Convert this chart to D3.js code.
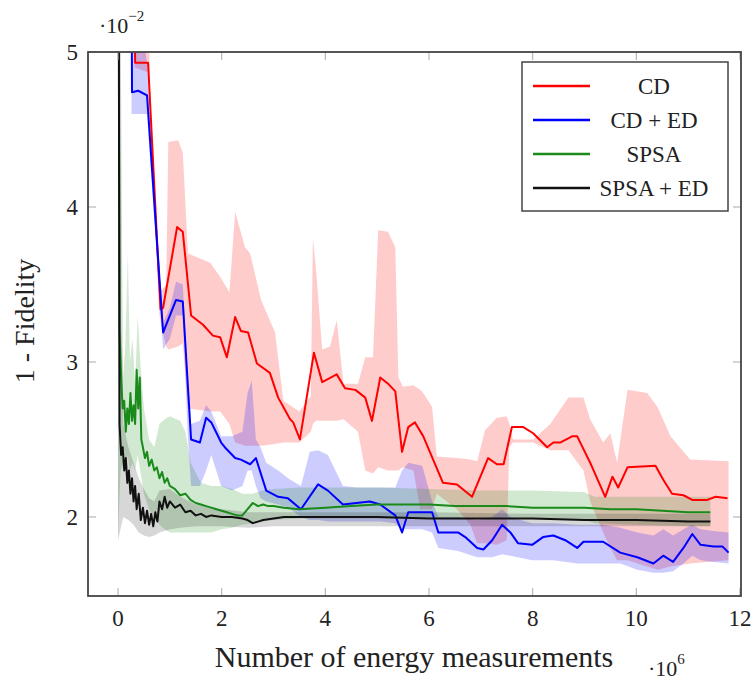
<!DOCTYPE html>
<html>
<head>
<meta charset="utf-8">
<script src="https://cdn.jsdelivr.net/npm/d3@7"></script>
<style>
  body { margin: 0; background: #fff; }
</style>
</head>
<body>
<div id="chart"></div>
<script>
// ---- data (x in 1e6 measurements, y in 1e-2) ----
const cdX = [0.32, 0.33, 0.58, 0.82, 0.87, 1.14, 1.25, 1.41, 1.64, 1.83, 1.97, 2.1, 2.26, 2.37, 2.51, 2.68, 2.93, 3.09, 3.19, 3.32, 3.38, 3.51, 3.78, 3.94, 4.22, 4.38, 4.58, 4.77, 4.9, 5.06, 5.21, 5.35, 5.48, 5.6, 5.73, 5.89, 6.27, 6.54, 6.83, 7.14, 7.31, 7.44, 7.6, 7.82, 8.01, 8.28, 8.4, 8.53, 8.76, 8.86, 9.11, 9.4, 9.54, 9.65, 9.83, 10.37, 10.52, 10.69, 10.91, 11.08, 11.37, 11.53, 11.76];
const cdY = [5.6, 4.93, 4.93, 3.34, 3.35, 3.87, 3.84, 3.30, 3.24, 3.17, 3.16, 3.03, 3.29, 3.2, 3.19, 2.99, 2.93, 2.77, 2.71, 2.63, 2.61, 2.50, 3.06, 2.87, 2.92, 2.83, 2.82, 2.77, 2.62, 2.9, 2.86, 2.81, 2.42, 2.58, 2.61, 2.52, 2.22, 2.21, 2.13, 2.38, 2.34, 2.34, 2.58, 2.58, 2.54, 2.45, 2.48, 2.48, 2.52, 2.52, 2.35, 2.13, 2.26, 2.19, 2.32, 2.33, 2.24, 2.15, 2.14, 2.11, 2.11, 2.13, 2.12];

const cdBandX = [0.32, 0.58, 0.62, 0.8, 0.93, 0.97, 1.16, 1.25, 1.35, 1.78, 1.97, 2.15, 2.26, 2.45, 2.55, 2.76, 3.03, 3.19, 3.5, 3.72, 3.76, 3.82, 3.94, 4.09, 4.22, 4.35, 4.63, 4.77, 4.92, 5.02, 5.21, 5.35, 5.41, 5.5, 5.7, 5.83, 5.89, 6.06, 6.15, 6.54, 6.8, 6.93, 7.08, 7.31, 7.5, 7.55, 7.62, 8.01, 8.34, 8.69, 8.98, 9.11, 9.36, 9.5, 9.63, 9.83, 10.21, 10.41, 10.66, 11.04, 11.78];
const cdBandHi = [5.6, 5.6, 4.7, 3.45, 3.5, 4.42, 4.43, 4.35, 3.70, 3.64, 3.55, 3.45, 3.97, 3.74, 3.7, 3.40, 3.19, 2.75, 2.68, 2.78, 3.8, 3.6, 3.08, 3.1, 3.27, 2.86, 2.86, 3.03, 3.03, 3.85, 3.84, 3.74, 2.9, 2.84, 2.85, 2.82, 2.8, 2.71, 2.39, 2.38, 2.37, 2.36, 2.56, 2.64, 2.65, 2.6, 2.5, 2.5, 2.6, 2.77, 2.77, 2.63, 2.48, 2.54, 2.35, 2.82, 2.8, 2.71, 2.52, 2.37, 2.36];
const cdBandLo = [4.9, 4.87, 4.55, 3.3, 3.1, 3.08, 3.1, 3.12, 2.7, 2.68, 2.68, 2.6, 2.48, 2.46, 2.46, 2.46, 2.47, 2.48, 2.48, 2.55, 2.6, 2.62, 2.62, 2.62, 2.62, 2.63, 2.55, 2.3, 2.28, 2.32, 2.3, 2.3, 2.3, 2.32, 2.3, 2.05, 2.05, 2.05, 2.15, 2.05, 1.95, 1.83, 1.83, 1.82, 1.85, 2.45, 2.48, 2.48, 2.43, 2.43, 2.3, 2.1, 1.9, 1.8, 1.72, 1.72, 1.68, 1.66, 1.68, 1.7, 1.72];

const cdEdX = [0.26, 0.27, 0.39, 0.56, 0.87, 1.12, 1.25, 1.41, 1.58, 1.7, 1.8, 1.99, 2.06, 2.26, 2.37, 2.55, 2.66, 2.86, 3.09, 3.28, 3.53, 3.86, 4.05, 4.34, 4.86, 5.06, 5.35, 5.48, 5.6, 5.87, 6.06, 6.18, 6.56, 6.7, 6.93, 7.05, 7.22, 7.41, 7.57, 7.72, 7.99, 8.2, 8.4, 8.63, 8.86, 8.98, 9.36, 9.69, 10.02, 10.33, 10.52, 10.71, 10.91, 11.08, 11.24, 11.49, 11.66, 11.78];
const cdEdY = [5.6, 4.74, 4.75, 4.72, 3.19, 3.40, 3.39, 2.50, 2.48, 2.64, 2.61, 2.48, 2.45, 2.38, 2.37, 2.34, 2.38, 2.17, 2.13, 2.12, 2.05, 2.21, 2.17, 2.08, 2.1, 2.08, 2.01, 1.9, 2.03, 2.03, 2.03, 1.9, 1.9, 1.87, 1.8, 1.79, 1.85, 1.95, 1.9, 1.83, 1.82, 1.87, 1.88, 1.85, 1.8, 1.84, 1.84, 1.77, 1.74, 1.7, 1.75, 1.71, 1.8, 1.89, 1.82, 1.81, 1.81, 1.77];

const cdEdBandX = [0.26, 0.56, 0.62, 0.87, 1.0, 1.12, 1.25, 1.35, 1.41, 1.58, 1.7, 1.8, 1.99, 2.2, 2.4, 2.5, 2.58, 2.66, 2.75, 2.86, 3.09, 3.28, 3.53, 3.7, 3.86, 4.05, 4.34, 4.6, 4.86, 5.06, 5.35, 5.48, 5.6, 5.87, 6.06, 6.18, 6.56, 6.93, 7.22, 7.41, 7.57, 7.99, 8.4, 8.86, 9.36, 9.69, 10.02, 10.33, 10.52, 10.71, 10.91, 11.08, 11.24, 11.49, 11.78];
const cdEdBandHi = [5.6, 4.93, 4.5, 3.25, 3.35, 3.52, 3.5, 2.9, 2.6, 2.62, 2.72, 2.68, 2.52, 2.52, 2.55, 2.8, 2.88, 2.5, 2.45, 2.35, 2.3, 2.25, 2.2, 2.42, 2.43, 2.4, 2.2, 2.19, 2.19, 2.19, 2.19, 2.3, 2.35, 2.33, 2.1, 2.0, 2.0, 1.98, 2.0, 2.05, 2.0, 1.96, 1.96, 1.95, 1.95, 1.93, 1.9, 1.88, 1.92, 1.88, 1.92, 1.95, 1.92, 1.91, 1.9];
const cdEdBandLo = [4.6, 4.6, 4.3, 3.08, 3.15, 3.3, 3.3, 2.5, 2.2, 2.2, 2.3, 2.4, 2.2, 2.17, 2.2, 2.3, 2.3, 2.2, 2.12, 2.1, 2.08, 2.06, 2.0, 1.98, 1.98, 1.97, 1.97, 1.97, 1.97, 1.97, 1.96, 1.92, 1.92, 1.92, 1.9, 1.8, 1.78, 1.74, 1.74, 1.76, 1.75, 1.72, 1.72, 1.7, 1.7, 1.7, 1.66, 1.64, 1.64, 1.65, 1.7, 1.75, 1.72, 1.71, 1.7];

const spsaX = [0, 0.03, 0.06, 0.09, 0.12, 0.15, 0.18, 0.21, 0.24, 0.27, 0.3, 0.33, 0.36, 0.39, 0.42, 0.45, 0.48, 0.52, 0.56, 0.6, 0.65, 0.7, 0.75, 0.8, 0.85, 0.9, 0.95, 1.0, 1.1, 1.2, 1.3, 1.4, 1.5, 1.6, 1.7, 1.8, 1.9, 2.0, 2.1, 2.2, 2.3, 2.4, 2.5, 2.6, 2.7, 2.8, 2.9, 3.0, 3.2, 3.5, 4.0, 4.5, 5.0, 5.5, 6.0, 6.5, 7.0, 7.5, 8.0, 8.5, 9.0, 9.5, 10.0, 10.5, 11.0, 11.43];
const spsaY = [8, 3.2, 2.9, 2.7, 2.75, 2.55, 2.7, 2.6, 2.8, 2.62, 2.72, 2.6, 2.95, 2.7, 2.9, 2.5, 2.45, 2.38, 2.42, 2.33, 2.37, 2.3, 2.32, 2.25, 2.29, 2.22, 2.25, 2.2, 2.18, 2.14, 2.15, 2.11, 2.09, 2.08, 2.07, 2.06, 2.05, 2.04, 2.03, 2.02, 2.01, 2.01, 2.05, 2.09, 2.07, 2.08, 2.07, 2.07, 2.06, 2.05, 2.06, 2.07, 2.08, 2.08, 2.08, 2.07, 2.07, 2.07, 2.06, 2.06, 2.06, 2.05, 2.05, 2.04, 2.03, 2.03];

const spsaBandX = [0, 0.05, 0.1, 0.14, 0.19, 0.23, 0.28, 0.33, 0.38, 0.43, 0.5, 0.6, 0.7, 0.8, 0.9, 1.0, 1.2, 1.3, 1.4, 1.6, 1.8, 2.0, 2.2, 2.4, 2.6, 2.8, 3.0, 3.5, 4.0, 5.0, 6.0, 7.0, 8.0, 9.0, 9.2, 10.0, 11.0, 11.43];
const spsaBandHi = [8, 3.3, 2.9, 3.1, 3.7, 3.0, 3.15, 2.85, 3.3, 3.0, 2.7, 2.5, 2.45, 2.6, 2.63, 2.65, 2.62, 2.55, 2.35, 2.22, 2.2, 2.2, 2.18, 2.15, 2.15, 2.17, 2.18, 2.19, 2.19, 2.19, 2.18, 2.17, 2.17, 2.16, 2.13, 2.13, 2.13, 2.13];
const spsaBandLo = [1.9, 2.3, 2.35, 2.3, 2.4, 2.3, 2.35, 2.3, 2.4, 2.3, 2.15, 2.05, 2.0, 1.95, 1.92, 1.9, 1.9, 1.9, 1.9, 1.9, 1.9, 1.92, 1.93, 1.95, 1.96, 1.97, 1.98, 1.99, 1.99, 1.99, 1.99, 1.99, 1.99, 1.98, 1.96, 1.95, 1.94, 1.94];

const spsaEdX = [0, 0.03, 0.06, 0.09, 0.12, 0.15, 0.18, 0.21, 0.24, 0.27, 0.3, 0.33, 0.36, 0.4, 0.44, 0.48, 0.52, 0.56, 0.6, 0.64, 0.68, 0.72, 0.76, 0.8, 0.85, 0.9, 0.95, 1.0, 1.1, 1.2, 1.3, 1.4, 1.5, 1.6, 1.7, 1.8, 2.0, 2.2, 2.4, 2.5, 2.6, 2.7, 2.8, 3.0, 3.2, 3.5, 4.0, 5.0, 6.0, 7.0, 8.0, 9.0, 10.0, 11.0, 11.43];
const spsaEdY = [8, 2.6, 2.4, 2.45, 2.3, 2.38, 2.22, 2.3, 2.15, 2.25, 2.1, 2.2, 2.05, 2.15, 1.98, 2.06, 1.96, 2.04, 1.95, 2.02, 1.94, 2.03, 1.97, 2.1, 2.05, 2.13, 2.06, 2.1, 2.06, 2.08, 2.03, 2.04, 2.01, 2.02, 2.0, 2.01, 2.0, 2.0, 1.99, 1.98, 1.96, 1.97, 1.98, 1.99, 2.0, 2.0, 2.0, 2.0, 1.99, 1.99, 1.99, 1.98, 1.98, 1.97, 1.97];

const spsaEdBandX = [0, 0.1, 0.2, 0.3, 0.4, 0.5, 0.6, 0.7, 0.8, 1.0, 1.2, 1.5, 2.0, 2.5, 3.0, 4.0, 6.0, 8.0, 10.0, 11.43];
const spsaEdBandHi = [8, 2.6, 2.45, 2.35, 2.25, 2.18, 2.12, 2.1, 2.17, 2.18, 2.13, 2.08, 2.05, 2.03, 2.03, 2.03, 2.03, 2.02, 2.02, 2.02];
const spsaEdBandLo = [1.85, 2.0, 1.98, 1.95, 1.9, 1.88, 1.87, 1.88, 1.9, 1.92, 1.93, 1.94, 1.94, 1.93, 1.94, 1.94, 1.94, 1.94, 1.94, 1.94];

const xTicks = [0, 2, 4, 6, 8, 10, 12];
const yTicks = [2, 3, 4, 5];
const seriesNames = ["CD", "CD + ED", "SPSA", "SPSA + ED"];
const seriesColors = ["#ff0000", "#0000ff", "#1a8a1a", "#111111"];

// ---- layout ----
const W = 756, H = 680;
const plot = { left: 88, right: 741, top: 52, bottom: 596 };
const serif = "Liberation Serif, Times New Roman, Times, DejaVu Serif, serif";

const svg = d3.select("#chart")
    .append("svg")
    .attr("width", W)
    .attr("height", H);

const x = d3.scaleLinear().domain([-0.579, 12.02]).range([plot.left, plot.right]);
const y = d3.scaleLinear().domain([1.49, 5]).range([plot.bottom, plot.top]);

svg.append("clipPath")
    .attr("id", "clip")
    .append("rect")
    .attr("x", plot.left)
    .attr("y", plot.top)
    .attr("width", plot.right - plot.left)
    .attr("height", plot.bottom - plot.top);

const series = [
    { line: d3.zip(cdX, cdY), band: d3.zip(cdBandX, cdBandLo, cdBandHi) },
    { line: d3.zip(cdEdX, cdEdY), band: d3.zip(cdEdBandX, cdEdBandLo, cdEdBandHi) },
    { line: d3.zip(spsaX, spsaY), band: d3.zip(spsaBandX, spsaBandLo, spsaBandHi) },
    { line: d3.zip(spsaEdX, spsaEdY), band: d3.zip(spsaEdBandX, spsaEdBandLo, spsaEdBandHi) }
];

const area = d3.area()
    .x(d => x(d[0]))
    .y0(d => y(d[1]))
    .y1(d => y(d[2]));

const line = d3.line()
    .x(d => x(d[0]))
    .y(d => y(d[1]));

const g = svg.append("g").attr("clip-path", "url(#clip)");

// shaded bands first
series.forEach((s, i) => {
    g.append("path")
        .datum(s.band)
        .attr("d", area)
        .style("fill", seriesColors[i])
        .style("fill-opacity", i === 3 ? 0.17 : 0.2)
        .style("stroke", "none");
});

// mean lines on top
series.forEach((s, i) => {
    g.append("path")
        .datum(s.line)
        .attr("d", line)
        .style("fill", "none")
        .style("stroke", seriesColors[i])
        .style("stroke-width", 2)
        .style("stroke-linejoin", "round");
});

// ---- axes: inward ticks on all four sides ----
const tickLen = 8;
const ticks = svg.append("g").style("stroke", "#aaa").style("stroke-width", 1);

xTicks.forEach(t => {
    ticks.append("line").attr("x1", x(t)).attr("x2", x(t)).attr("y1", plot.bottom).attr("y2", plot.bottom - tickLen);
    ticks.append("line").attr("x1", x(t)).attr("x2", x(t)).attr("y1", plot.top).attr("y2", plot.top + tickLen);
});
yTicks.forEach(t => {
    ticks.append("line").attr("x1", plot.left).attr("x2", plot.left + tickLen).attr("y1", y(t)).attr("y2", y(t));
    ticks.append("line").attr("x1", plot.right).attr("x2", plot.right - tickLen).attr("y1", y(t)).attr("y2", y(t));
});

svg.append("rect")
    .attr("x", plot.left)
    .attr("y", plot.top)
    .attr("width", plot.right - plot.left)
    .attr("height", plot.bottom - plot.top)
    .style("fill", "none")
    .style("stroke", "#444")
    .style("stroke-width", 1.8);

// all texts share the serif face
const label = (sel) => sel.attr("font-family", serif).style("fill", "#222");

// tick labels
svg.selectAll(".xlab")
    .data(xTicks)
    .enter()
    .append("text")
    .attr("class", "xlab")
    .attr("x", d => x(d))
    .attr("y", 626)
    .attr("text-anchor", "middle")
    .attr("font-size", 23)
    .call(label)
    .text(d => d);

svg.selectAll(".ylab")
    .data(yTicks)
    .enter()
    .append("text")
    .attr("class", "ylab")
    .attr("x", 78)
    .attr("y", d => y(d) + 8)
    .attr("text-anchor", "end")
    .attr("font-size", 23)
    .call(label)
    .text(d => d);

// axis titles
svg.append("text")
    .attr("x", 414)
    .attr("y", 667)
    .attr("text-anchor", "middle")
    .attr("font-size", 30)
    .call(label)
    .text("Number of energy measurements");

svg.append("text")
    .attr("transform", "translate(34, 321) rotate(-90)")
    .attr("text-anchor", "middle")
    .attr("font-size", 28)
    .call(label)
    .text("1 - Fidelity");

// scale multipliers
const yMul = svg.append("text").attr("x", 99).attr("y", 33).attr("font-size", 22).call(label);
yMul.append("tspan").text("·10");
yMul.append("tspan").attr("dy", -12).attr("font-size", 15).text("−2");

const xMul = svg.append("text").attr("x", 648).attr("y", 676).attr("font-size", 22).call(label);
xMul.append("tspan").text("·10");
xMul.append("tspan").attr("dy", -12).attr("font-size", 15).text("6");

// ---- legend ----
const legend = svg.append("g").attr("transform", "translate(522, 62)");

legend.append("rect")
    .attr("width", 206)
    .attr("height", 149)
    .style("fill", "#fff")
    .style("stroke", "#444")
    .style("stroke-width", 1.5);

legend.selectAll(".legend-item")
    .data(seriesNames)
    .enter()
    .append("g")
    .attr("class", "legend-item")
    .attr("transform", (d, i) => `translate(0, ${24 + i * 34})`)
    .each(function (d, i) {
        d3.select(this)
            .append("line")
            .attr("x1", 11)
            .attr("x2", 68)
            .style("stroke", seriesColors[i])
            .style("stroke-width", 2.5);

        d3.select(this)
            .append("text")
            .attr("x", 132)
            .attr("y", 8)
            .attr("text-anchor", "middle")
            .attr("font-size", 23)
            .call(label)
            .text(d);
    });
</script>
</body>
</html>
